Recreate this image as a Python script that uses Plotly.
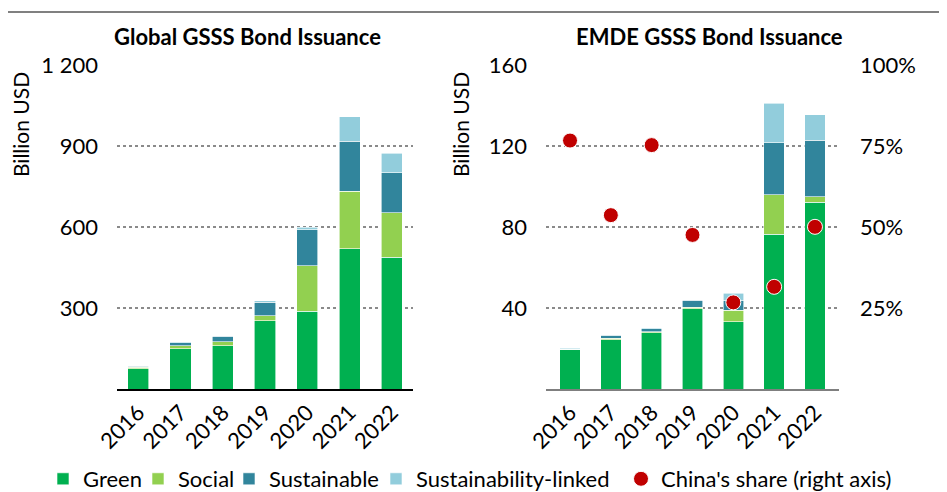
import plotly.graph_objects as go

years = ["2016", "2017", "2018", "2019", "2020", "2021", "2022"]

# Global GSSS bond issuance (billion USD)
glob_green = [76, 150, 162, 253, 288, 520, 488]
glob_social = [6, 11, 14, 19, 170, 212, 166]
glob_sust = [4, 11, 20, 51, 132, 185, 148]
glob_sl = [2, 4, 3, 4, 10, 92, 72]

# EMDE GSSS bond issuance (billion USD)
emde_green = [19.7, 24.5, 28.0, 39.8, 33.4, 76.6, 92.4]
emde_social = [0.1, 0.8, 0.3, 0.7, 5.7, 19.3, 2.5]
emde_sust = [0.3, 1.3, 1.6, 3.4, 4.5, 25.8, 27.9]
emde_sl = [0.3, 0.3, 0.4, 0.2, 3.8, 19.4, 12.7]

# China's share of EMDE issuance (right axis)
china_share = [0.767, 0.537, 0.753, 0.476, 0.268, 0.316, 0.501]

left_ticks = [300, 600, 900, 1200]
left_ticktext = ["300", "600", "900", "1 200"]
right_ticks = [40, 80, 120, 160]
share_ticks = [0.25, 0.5, 0.75, 1.0]
share_ticktext = ["25%", "50%", "75%", "100%"]

series_names = ["Green", "Social", "Sustainable", "Sustainability-linked"]
colors = ["#00B050", "#92D050", "#31859C", "#92CDDC"]
china_color = "#C00000"

FONT = "Lato"
OFF = 8              # page body margin of the browser
W, H = 947 - OFF, 492 - OFF


def fx(p):
    return (p - OFF) / W


def fy(p):
    return 1 - (p - OFF) / H


fig = go.Figure()

glob = [glob_green, glob_social, glob_sust, glob_sl]
emde = [emde_green, emde_social, emde_sust, emde_sl]
legend_ids = ["legend", "legend2", "legend3", "legend4"]

for name, col, gv, ev, lg in zip(series_names, colors, glob, emde, legend_ids):
    fig.add_trace(go.Bar(
        x=years, y=gv, name=name, marker=dict(color=col, line=dict(color="white", width=0.6)),
        xaxis="x", yaxis="y", legend=lg, showlegend=True, legendgroup=name,
    ))
    fig.add_trace(go.Bar(
        x=years, y=ev, name=name, marker=dict(color=col, line=dict(color="white", width=0.6)),
        xaxis="x2", yaxis="y2", legend=lg, showlegend=False, legendgroup=name,
    ))

fig.add_trace(go.Scatter(
    x=years, y=china_share, name="China's share (right axis)", mode="markers",
    marker=dict(color=china_color, size=15, line=dict(color="white", width=1)),
    xaxis="x2", yaxis="y3", legend="legend5",
))

ydom = [fy(389.3), fy(65)]
tickfont = dict(family=FONT, size=22, color="#000000")
grid = dict(showgrid=True, gridcolor="#8a8a8a", griddash="dot", gridwidth=1.5)

legend_common = dict(
    orientation="h", yanchor="middle", y=fy(479), xanchor="left",
    font=dict(family=FONT, size=22, color="#000000"), bgcolor="rgba(0,0,0,0)",
    itemwidth=30, itemclick=False, itemdoubleclick=False,
)

fig.update_layout(
    width=W, height=H,
    margin=dict(l=0, r=0, t=0, b=0, autoexpand=False),
    paper_bgcolor="white", plot_bgcolor="white",
    barmode="stack", bargap=0.5,
    font=dict(family=FONT, size=22, color="#000000"),
    xaxis=dict(domain=[fx(117), fx(413)], anchor="y", tickangle=-45, tickfont=tickfont,
               showline=True, linecolor="#000000", linewidth=1.5, ticks="", showgrid=False,
               automargin=False),
    yaxis=dict(domain=ydom, anchor="x", range=[0, 1200], tickvals=left_ticks, ticktext=left_ticktext,
               tickfont=tickfont, zeroline=False, showline=False, ticks="", automargin=False,
               ticklabelstandoff=18, **grid),
    xaxis2=dict(domain=[fx(546), fx(839)], anchor="y2", tickangle=-45, tickfont=tickfont,
                showline=True, linecolor="#7f7f7f", linewidth=1.5, ticks="", showgrid=False,
                automargin=False),
    yaxis2=dict(domain=ydom, anchor="x2", range=[0, 160], tickvals=right_ticks,
                tickfont=tickfont, zeroline=False, showline=False, ticks="", automargin=False,
                ticklabelstandoff=18, **grid),
    yaxis3=dict(domain=ydom, anchor="x2", overlaying="y2", side="right", range=[0, 1],
                tickvals=share_ticks, ticktext=share_ticktext, tickfont=tickfont,
                showgrid=False, zeroline=False, showline=False, ticks="", automargin=False,
                ticklabelstandoff=20),
    legend=dict(x=fx(43), **legend_common),
    legend2=dict(x=fx(138), **legend_common),
    legend3=dict(x=fx(229), **legend_common),
    legend4=dict(x=fx(376), **legend_common),
    legend5=dict(x=fx(621), **legend_common),
    shapes=[dict(type="line", xref="paper", yref="paper", x0=0, x1=1, y0=fy(12), y1=fy(12),
                 line=dict(color="#808080", width=2))],
    annotations=[
        dict(text="<b>Global GSSS Bond Issuance</b>", xref="paper", yref="paper",
             x=fx(247), y=fy(36), xanchor="center", yanchor="middle", showarrow=False,
             font=dict(family=FONT, size=22, color="#000000")),
        dict(text="<b>EMDE GSSS Bond Issuance</b>", xref="paper", yref="paper",
             x=fx(709), y=fy(36), xanchor="center", yanchor="middle", showarrow=False,
             font=dict(family=FONT, size=22, color="#000000")),
        dict(text="Billion USD", xref="paper", yref="paper", textangle=-90,
             x=fx(20), y=fy(125), xanchor="center", yanchor="middle", showarrow=False,
             font=dict(family=FONT, size=21, color="#000000")),
        dict(text="Billion USD", xref="paper", yref="paper", textangle=-90,
             x=fx(460), y=fy(125), xanchor="center", yanchor="middle", showarrow=False,
             font=dict(family=FONT, size=21, color="#000000")),
    ],
)

fig.write_html("out.html")
